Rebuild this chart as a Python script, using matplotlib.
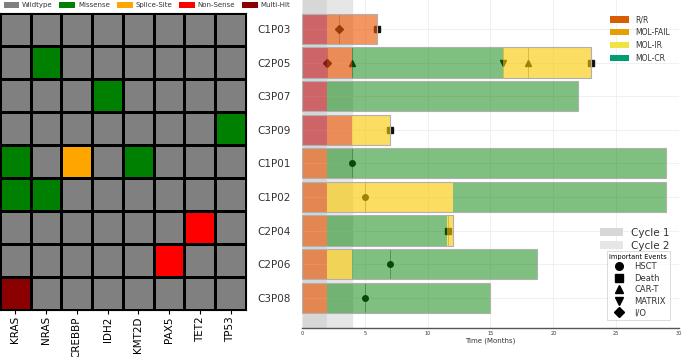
import matplotlib
matplotlib.use('Agg')
from matplotlib import pyplot as plt
from matplotlib.colors import ListedColormap
from matplotlib.patches import Patch
from matplotlib.lines import Line2D
import numpy as np

# Mutation heatmap data (0 wildtype, 1 missense, 2 splice-site, 3 non-sense, 4 multi-hit)
genes = ['KRAS', 'NRAS', 'CREBBP', 'IDH2', 'KMT2D', 'PAX5', 'TET2', 'TP53']
mut_types = ['Wildtype', 'Missense', 'Splice-Site', 'Non-Sense', 'Multi-Hit']
mutations = [
    [0, 0, 0, 0, 0, 0, 0, 0],
    [0, 1, 0, 0, 0, 0, 0, 0],
    [0, 0, 0, 1, 0, 0, 0, 0],
    [0, 0, 0, 0, 0, 0, 0, 1],
    [1, 0, 2, 0, 1, 0, 0, 0],
    [1, 1, 0, 0, 0, 0, 0, 0],
    [0, 0, 0, 0, 0, 0, 3, 0],
    [0, 0, 0, 0, 0, 3, 0, 0],
    [4, 0, 0, 0, 0, 0, 0, 0],
]

# Swimmer plot data: patients, response segments (start, end, status), events
patients = ['C1P03', 'C2P05', 'C3P07', 'C3P09', 'C1P01', 'C1P02', 'C2P04', 'C2P06', 'C3P08']
statuses = ['R/R', 'MOL-FAIL', 'MOL-IR', 'MOL-CR']
segments = [
    [(0, 2, 'R/R'), (2, 6, 'MOL-FAIL')],
    [(0, 2, 'R/R'), (2, 4, 'MOL-FAIL'), (4, 16, 'MOL-CR'), (16, 23, 'MOL-IR')],
    [(0, 2, 'R/R'), (2, 22, 'MOL-CR')],
    [(0, 2, 'R/R'), (2, 4, 'MOL-FAIL'), (4, 7, 'MOL-IR')],
    [(0, 2, 'MOL-FAIL'), (2, 29, 'MOL-CR')],
    [(0, 2, 'MOL-FAIL'), (2, 12, 'MOL-IR'), (12, 29, 'MOL-CR')],
    [(0, 2, 'MOL-FAIL'), (2, 11.5, 'MOL-CR'), (11.5, 12, 'MOL-IR')],
    [(0, 2, 'MOL-FAIL'), (2, 4, 'MOL-IR'), (4, 18.7, 'MOL-CR')],
    [(0, 2, 'MOL-FAIL'), (2, 15, 'MOL-CR')],
]
event_names = ['HSCT', 'Death', 'CAR-T', 'MATRIX', 'I/O']
events = [
    ('C1P03', 2.9, 'I/O'), ('C1P03', 6, 'Death'),
    ('C2P05', 2, 'I/O'), ('C2P05', 4, 'CAR-T'), ('C2P05', 16, 'MATRIX'),
    ('C2P05', 18, 'CAR-T'), ('C2P05', 23, 'Death'),
    ('C3P09', 7, 'Death'),
    ('C1P01', 4, 'HSCT'),
    ('C1P02', 5, 'HSCT'),
    ('C2P04', 11.6, 'Death'),
    ('C2P06', 7, 'HSCT'),
    ('C3P08', 5, 'HSCT'),
]

mut_colors = ['#808080', '#008000', '#ffa500', '#ff0000', '#8b0000']
bar_colors = {'R/R': '#c81e23', 'MOL-FAIL': '#ec5600', 'MOL-IR': '#f9c800', 'MOL-CR': '#008000'}
bar_alpha = {'R/R': 0.62, 'MOL-FAIL': 0.62, 'MOL-IR': 0.62, 'MOL-CR': 0.5}
legend_colors = {'R/R': '#d55e00', 'MOL-FAIL': '#e69f00', 'MOL-IR': '#f0e442', 'MOL-CR': '#009e73'}
markers = {'HSCT': 'o', 'Death': 's', 'CAR-T': '^', 'MATRIX': 'v', 'I/O': 'D'}

fig = plt.figure(figsize=(6.85, 3.57), dpi=100)

# Left panel: mutation heatmap
ax1 = fig.add_axes([0.0, 0.132, 0.359, 0.832])
m = np.array(mutations)
ax1.pcolormesh(m, cmap=ListedColormap(mut_colors), vmin=-0.5, vmax=4.5,
               edgecolors='black', linewidth=1)
ax1.set_xlim(0, len(genes))
ax1.set_ylim(len(mutations), 0)
ax1.set_xticks(np.arange(len(genes)) + 0.5)
ax1.set_xticklabels(genes, rotation=90, fontsize=7.5)
ax1.set_yticks([])
ax1.tick_params(axis='x', length=3, pad=1.5)

handles = [Patch(facecolor=c, label=l) for c, l in zip(mut_colors, mut_types)]
fig.legend(handles=handles, loc='upper left', bbox_to_anchor=(-0.004, 1.012), ncol=5,
           fontsize=5, frameon=False, handlelength=2.3, handleheight=1.0,
           columnspacing=1.0, handletextpad=0.35, labelcolor='#333333')

# Right panel: swimmer plot
ax2 = fig.add_axes([0.441, 0.081, 0.550, 0.919])
ax2.axvspan(0, 2, color='#d7d7d7', zorder=0)
ax2.axvspan(2, 4, color='#e6e6e6', zorder=0)
ax2.grid(True, color='#eeeeee', linewidth=0.6, zorder=0.5)
ax2.set_axisbelow(True)

ypos = {p: i for i, p in enumerate(patients)}
for i, p in enumerate(patients):
    segs = segments[i]
    for (s, e, st) in segs:
        ax2.barh(i, e - s, left=s, height=0.9, color=bar_colors[st], alpha=bar_alpha[st],
                 edgecolor='none', zorder=3)
    start = segs[0][0]
    end = segs[-1][1]
    ax2.barh(i, end - start, left=start, height=0.9, facecolor='none',
             edgecolor='#b0b0b0', linewidth=0.8, zorder=4)

for (p, t, ev) in events:
    y = ypos[p]
    ax2.vlines(t, y - 0.45, y + 0.45, color='#555555', linewidth=0.6, alpha=0.6, zorder=2)
    ax2.plot(t, y, marker=markers[ev], color='#111111', markersize=4,
             linestyle='none', zorder=2)

ax2.set_xlim(0, 30)
ax2.set_ylim(8.9, -0.86)
ax2.set_yticks(range(len(patients)))
ax2.set_yticklabels(patients, fontsize=7.5, color='#333333')
ax2.set_xticks(range(0, 31, 5))
ax2.tick_params(axis='x', labelsize=3.5, length=0, pad=2, colors='#333333')
ax2.tick_params(axis='y', length=0, pad=8)
ax2.set_xlabel('Time (Months)', fontsize=5, color='#333333', labelpad=1)
for s in ['top', 'right', 'left']:
    ax2.spines[s].set_visible(False)
ax2.spines['bottom'].set_color('#555555')
ax2.spines['bottom'].set_linewidth(1.0)

status_handles = [Patch(facecolor=legend_colors[s], label=s) for s in statuses]
leg1 = ax2.legend(handles=status_handles, loc='upper right', bbox_to_anchor=(0.995, 0.975),
                  fontsize=5.5, frameon=False, handlelength=2.5, handleheight=0.9,
                  labelcolor='#333333')
ax2.add_artist(leg1)

cycle_handles = [Patch(facecolor='#d7d7d7', label='Cycle 1'), Patch(facecolor='#e6e6e6', label='Cycle 2')]
leg2 = ax2.legend(handles=cycle_handles, loc='upper right', bbox_to_anchor=(1.0, 0.335),
                  fontsize=7.5, frameon=False, handlelength=2.2, handleheight=0.8,
                  labelcolor='#333333', labelspacing=0.3)
ax2.add_artist(leg2)

event_handles = [Line2D([], [], marker=markers[e], color='black', linestyle='none',
                        markersize=5.5, label=e) for e in event_names]
leg3 = ax2.legend(handles=event_handles, loc='lower right', bbox_to_anchor=(0.988, 0.012),
                  fontsize=6, title='Important Events', title_fontsize=4.8,
                  frameon=True, edgecolor='#cccccc', fancybox=False,
                  labelcolor='#333333', labelspacing=0.3, handletextpad=0.8,
                  borderpad=0.35)
leg3.get_frame().set_linewidth(0.6)

fig.savefig('out.png', dpi=100)
